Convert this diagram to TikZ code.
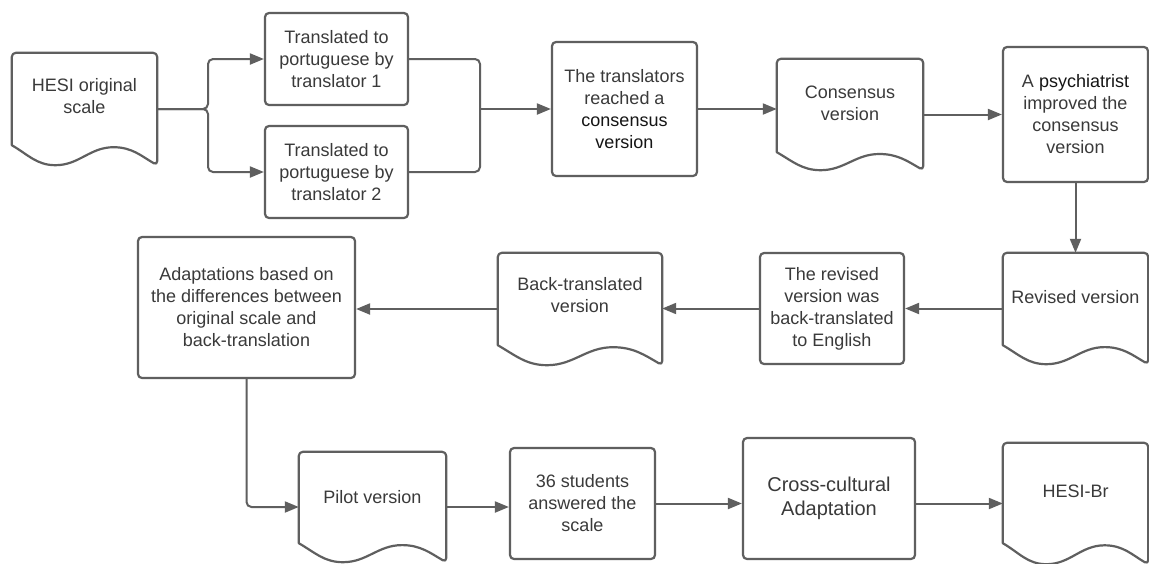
\documentclass[tikz,border=0pt]{standalone}
\usepackage{fontspec}
\setmainfont{Liberation Sans}
\usetikzlibrary{arrows.meta,calc}
\definecolor{edgecol}{HTML}{5F5F5F}
\definecolor{txtcol}{HTML}{3A3A3A}
\definecolor{darktxt}{HTML}{151515}
\tikzset{
  box/.style={draw=edgecol, line width=2.2pt, rounded corners=4pt, fill=white,
    align=center, text=txtcol, font=\fontsize{18}{22}\selectfont, inner sep=0pt},
  docbox/.style={draw=none, inner sep=0pt},
  doctext/.style={align=center, text=txtcol, font=\fontsize{18}{22}\selectfont, inner sep=0pt},
  docline/.style={draw=edgecol, line width=2.2pt, line join=round},
  arr/.style={draw=edgecol, line width=2pt, -{Triangle[length=14pt,width=11pt]}},
  conn/.style={draw=edgecol, line width=2pt},
}
\newcommand{\docoutline}[2]{%
  \draw[docline] ($(#1.south west)+(0,-#2)$) [rounded corners=4pt] -- (#1.north west) -- (#1.north east) -- (#1.south east) [sharp corners]
    to[out=150,in=0] ($(#1.south west)!0.7!(#1.south east)+(0,-0.9*#2)$)
    to[out=180,in=0] ($(#1.south west)!0.3!(#1.south east)$)
    to[out=180,in=-30] ($(#1.south west)+(0,-#2)$) -- cycle;}
\begin{document}
\begin{tikzpicture}[x=1pt,y=-1pt]
\useasboundingbox (0,0) rectangle (1149,563);
\fill[white] (0,0) rectangle (1149,563);

% document-shaped nodes
\node[docbox, minimum width=145pt, minimum height=112pt] (hesi) at (84.5,109) {};
\docoutline{hesi}{20}
\node[doctext] (hesit) at ($(hesi.center)+(0,-13)$) {HESI original\\scale};

\node[docbox, minimum width=146pt, minimum height=111pt] (cons) at (850,114.5) {};
\docoutline{cons}{18}
\node[doctext] (const) at ($(cons.center)+(0,-11.5)$) {Consensus\\version};

\node[docbox, minimum width=145pt, minimum height=111pt] (revdoc) at (1075.5,308.5) {};
\docoutline{revdoc}{19}
\node[doctext] (revdoct) at ($(revdoc.center)+(0,-11.5)$) {Revised version};

\node[docbox, minimum width=164pt, minimum height=112pt] (back) at (580,309) {};
\docoutline{back}{20}
\node[doctext] (backt) at ($(back.center)+(0,-13.5)$) {Back-translated\\version};

\node[docbox, minimum width=147pt, minimum height=110pt] (pilot) at (372.5,507) {};
\docoutline{pilot}{19}
\node[doctext] (pilott) at ($(pilot.center)+(0,-10)$) {Pilot version};

\node[docbox, minimum width=145pt, minimum height=121pt] (hesibr) at (1075.5,503.5) {};
\docoutline{hesibr}{21}
\node[doctext] (hesibrt) at ($(hesibr.center)+(0,-12.5)$) {HESI-Br};

% rectangular process boxes
\node[box, minimum width=143pt, minimum height=92pt] (t1) at (336.5,59) {Translated to\\portuguese by\\translator 1};
\node[box, minimum width=143pt, minimum height=92pt] (t2) at (336.5,172) {Translated to\\portuguese by\\translator 2};
\node[box, minimum width=145pt, minimum height=134pt] (reach) at (624.5,109) {The translators\\reached a\\\textcolor{darktxt}{consensus}\\\textcolor{darktxt}{version}};
\node[box, minimum width=145pt, minimum height=135pt] (psych) at (1075.5,114.5) {A \textcolor{darktxt}{psychiatrist}\\improved the\\consensus\\version};
\node[box, minimum width=144pt, minimum height=111pt] (revbox) at (832,308.5) {The revised\\version was\\back-translated\\to English};
\node[box, minimum width=217pt, minimum height=141pt] (adapt) at (246.5,307.5) {Adaptations based on\\the differences between\\original scale and\\back-translation};
\node[box, minimum width=145pt, minimum height=111pt] (students) at (582.5,503.5) {36 students\\answered the\\scale};
\node[box, minimum width=172pt, minimum height=121pt, font=\fontsize{20}{24}\selectfont] (cross) at (829,498.5) {Cross-cultural\\Adaptation};

% connectors
\coordinate (split) at (208,109);
\coordinate (merge) at (480,109);
\draw[arr, rounded corners=5pt] (hesi.east) -- (split) |- (t1.west);
\draw[arr, rounded corners=5pt] (hesi.east) -- (split) |- (t2.west);
\draw[conn, rounded corners=5pt] (t1.east) -| (merge);
\draw[conn, rounded corners=5pt] (t2.east) -| (merge);
\draw[arr] (merge) -- (reach.west);
\draw[arr] (reach.east) -- (reach.east -| cons.west);
\draw[arr] (cons.east) -- (psych.west);
\draw[arr] (psych.south) -- (revdoc.north);
\draw[arr] (revdoc.west) -- (revbox.east);
\draw[arr] (revbox.west) -- (revbox.west -| back.east);
\draw[arr] (back.west) -- (back.west -| adapt.east);
\draw[arr, rounded corners=5pt] (adapt.south) |- (pilot.west);
\draw[arr] (pilot.east) -- (pilot.east -| students.west);
\draw[arr] (students.east) -- (students.east -| cross.west);
\draw[arr] (cross.east |- hesibr.west) -- (hesibr.west);
\end{tikzpicture}
\end{document}
